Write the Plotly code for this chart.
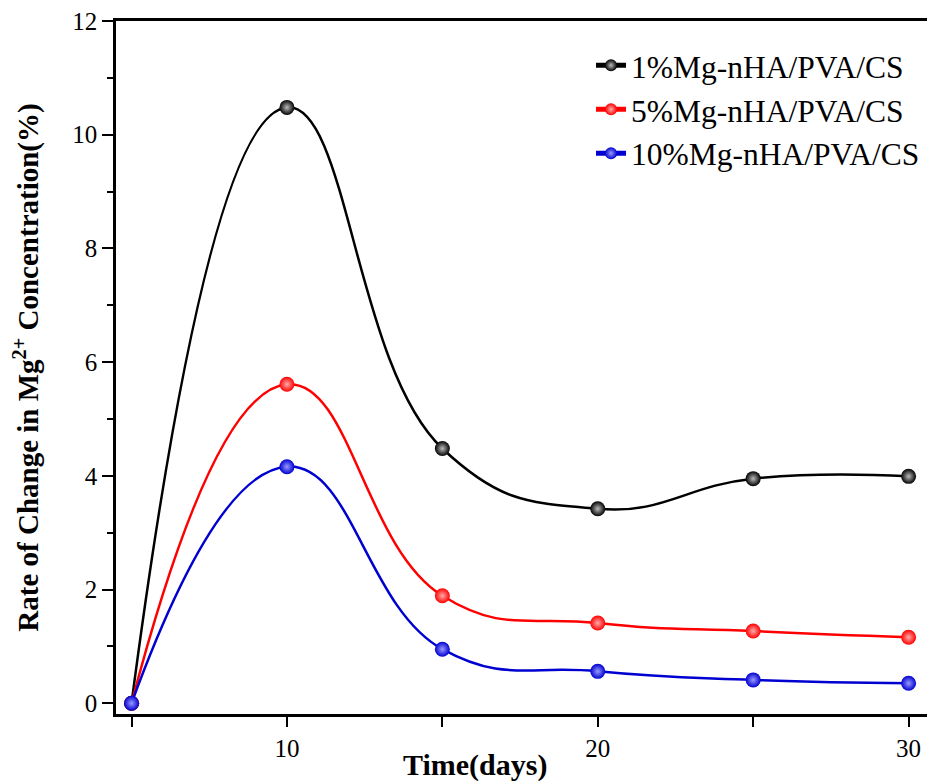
import plotly.graph_objects as go

days = [5, 10, 15, 20, 25, 30]
mg1 = [0, 10.48, 4.48, 3.42, 3.95, 3.99]
mg5 = [0, 5.61, 1.89, 1.41, 1.27, 1.16]
mg10 = [0, 4.16, 0.95, 0.56, 0.41, 0.35]
names = ["1%Mg-nHA/PVA/CS", "5%Mg-nHA/PVA/CS", "10%Mg-nHA/PVA/CS"]
colors = ["#000000", "#ff0000", "#0000d0"]
highlights = ["#bbbbbb", "#ffaaaa", "#9999ff"]
x_tickvals = [5, 10, 15, 20, 25, 30]
x_ticktext = ["", "10", "", "20", "", "30"]

serif = "Liberation Serif, Times New Roman, serif"

fig = go.Figure()
for ys, name, c, h in zip([mg1, mg5, mg10], names, colors, highlights):
    fig.add_trace(go.Scatter(
        x=days, y=ys, name=name, mode="lines+markers",
        line=dict(color=c, width=2.5, shape="spline", smoothing=1.3),
        marker=dict(size=15, color=c, gradient=dict(type="radial", color=h),
                    line=dict(width=0)),
    ))

# page body has an 8px margin, so the figure is drawn 8px in from the top-left
fig.update_layout(
    width=927, height=773,
    margin=dict(l=108, r=0, t=13, b=67, autoexpand=False),
    paper_bgcolor="white", plot_bgcolor="white",
    font=dict(family=serif, color="black"),
    showlegend=True,
    legend=dict(x=0.58, y=0.975, xanchor="left", yanchor="top",
                font=dict(family=serif, size=31.5, color="black"),
                bgcolor="rgba(0,0,0,0)", tracegroupgap=0, itemsizing="constant"),
    annotations=[dict(text="<b>Time(days)</b>", x=0.438, xref="paper",
                      y=-0.074, yref="paper", xanchor="center", yanchor="middle",
                      showarrow=False, font=dict(family=serif, size=30, color="black"))],
)
fig.update_xaxes(
    range=[4.5, 30.85], tickvals=x_tickvals, ticktext=x_ticktext,
    showgrid=False, zeroline=False, showline=True, linecolor="black",
    linewidth=2.5, mirror=True, ticks="outside", ticklen=10, tickwidth=2,
    tickcolor="black", tickfont=dict(family=serif, size=25, color="black"),
    automargin=False, ticklabeloverflow="allow",
)
fig.update_yaxes(
    range=[-0.19, 12], dtick=2, tick0=0,
    showgrid=False, zeroline=False, showline=True, linecolor="black",
    linewidth=2.5, ticks="outside", ticklen=11, tickwidth=2, tickcolor="black",
    tickfont=dict(family=serif, size=25, color="black"),
    minor=dict(dtick=1, ticks="outside", ticklen=6, tickwidth=2, tickcolor="black"),
    title=dict(text="<b>Rate of Change in Mg<sup>2+</sup> Concentration(%)</b>",
               font=dict(family=serif, size=29, color="black"), standoff=26),
    automargin=False, ticklabeloverflow="allow",
)

fig.write_html("out.html")
